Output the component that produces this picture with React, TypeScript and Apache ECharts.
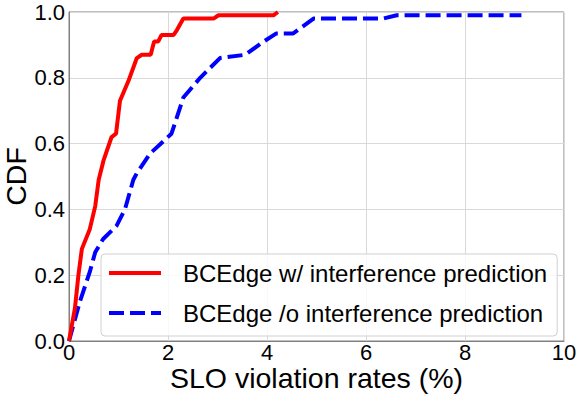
import React, { useEffect, useRef } from "react";
import * as echarts from "echarts";

const redName = "BCEdge w/ interference prediction";
const blueName = "BCEdge /o interference prediction";

const redX = [0.0, 0.12, 0.19, 0.26, 0.42, 0.53, 0.6, 0.7, 0.86, 0.95, 1.03, 1.2, 1.37, 1.47, 1.65, 1.72, 1.8, 1.87, 2.11, 2.18, 2.31, 2.92, 3.02, 4.13, 4.22];
const redY = [0.0, 0.1, 0.2, 0.28, 0.34, 0.41, 0.49, 0.55, 0.62, 0.63, 0.73, 0.79, 0.86, 0.87, 0.87, 0.91, 0.91, 0.93, 0.93, 0.945, 0.98, 0.98, 0.99, 0.99, 1.0];

const blueX = [0.0, 0.22, 0.42, 0.53, 0.69, 0.96, 1.13, 1.3, 1.37, 1.64, 2.07, 2.31, 2.65, 3.05, 3.56, 3.93, 4.19, 4.53, 4.94, 6.35, 6.62, 9.14];
const blueY = [0.0, 0.12, 0.21, 0.27, 0.31, 0.35, 0.4, 0.49, 0.51, 0.57, 0.63, 0.74, 0.8, 0.86, 0.87, 0.91, 0.935, 0.935, 0.98, 0.98, 0.99, 0.99];

const xTicks = { min: 0, max: 10, interval: 2 };
const yTicks = { min: 0, max: 1, interval: 0.2 };

const FONT = "Liberation Sans, Arial, sans-serif";

export default function App() {
  const ref = useRef<HTMLDivElement>(null);
  useEffect(() => {
    if (!ref.current) return;
    const chart = echarts.init(ref.current, undefined, { renderer: "svg" });
    chart.setOption({
      animation: false,
      textStyle: { fontFamily: FONT, color: "#000" },
      grid: {
        left: 69,
        right: 17,
        top: 12,
        bottom: 58,
        containLabel: false,
        outerBoundsMode: "none",
        show: true,
        borderColor: "#808080",
        borderWidth: 1,
        backgroundColor: "transparent",
      },
      xAxis: {
        type: "value",
        min: xTicks.min,
        max: xTicks.max,
        interval: xTicks.interval,
        name: "SLO violation rates (%)",
        nameLocation: "middle",
        nameGap: 23,
        nameMoveOverlap: false,
        nameTextStyle: { fontSize: 28.5, color: "#000", fontFamily: FONT, lineHeight: 28 },
        axisLine: { show: true, lineStyle: { color: "#808080", width: 1 } },
        axisTick: { show: false },
        axisLabel: { fontSize: 22, color: "#000", margin: 2, lineHeight: 19, fontFamily: FONT },
        splitLine: { show: true, lineStyle: { color: "#d9d9d9", width: 1 } },
      },
      yAxis: {
        type: "value",
        min: yTicks.min,
        max: yTicks.max,
        interval: yTicks.interval,
        name: "CDF",
        nameLocation: "middle",
        nameGap: 39,
        nameMoveOverlap: false,
        nameTextStyle: { fontSize: 28.5, color: "#000", fontFamily: FONT, lineHeight: 28 },
        axisLine: { show: true, lineStyle: { color: "#808080", width: 1 } },
        axisTick: { show: false },
        axisLabel: {
          fontSize: 22,
          color: "#000",
          margin: 4,
          fontFamily: FONT,
          formatter: (v: number) => v.toFixed(1),
        },
        splitLine: { show: true, lineStyle: { color: "#d9d9d9", width: 1 } },
      },
      legend: {
        orient: "vertical",
        left: 101,
        top: 254,
        padding: [7, 10, 11, 6],
        itemWidth: 52,
        itemHeight: 20,
        itemGap: 16,
        borderColor: "#d0d0d0",
        borderWidth: 1,
        borderRadius: 4,
        backgroundColor: "rgba(255,255,255,0.8)",
        itemStyle: { opacity: 0 },
        lineStyle: { width: 4 },
        textStyle: { fontSize: 24, color: "#000", fontFamily: FONT, padding: [0, 0, 0, 17] },
        data: [redName, blueName],
      },
      series: [
        {
          name: redName,
          type: "line",
          symbol: "none",
          showSymbol: false,
          data: redX.map((x, i) => [x, redY[i]]),
          lineStyle: { color: "#ff0000", width: 4, type: "solid" },
          itemStyle: { color: "#ff0000" },
          z: 3,
        },
        {
          name: blueName,
          type: "line",
          symbol: "none",
          showSymbol: false,
          data: blueX.map((x, i) => [x, blueY[i]]),
          lineStyle: { color: "#0000ff", width: 4, type: [15, 6] },
          itemStyle: { color: "#0000ff" },
          z: 2,
        },
      ],
    });
    return () => chart.dispose();
  }, []);
  return (
    <div
      ref={ref}
      style={{ position: "fixed", left: 0, top: 0, width: 581, height: 399, background: "#fff" }}
    />
  );
}
